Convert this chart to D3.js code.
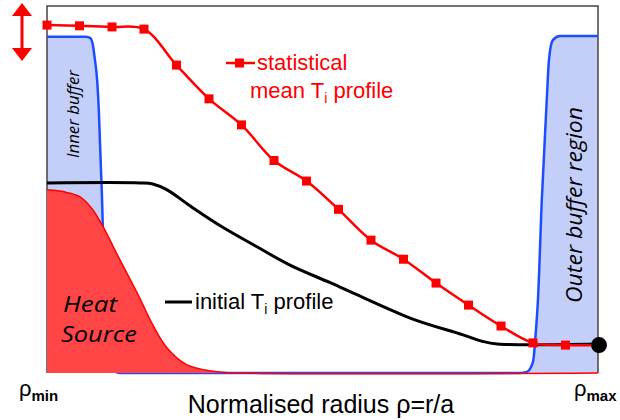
<!DOCTYPE html>
<html>
<head>
<meta charset="utf-8">
<script src="https://cdn.jsdelivr.net/npm/d3@7"></script>
<style>
  body { margin: 0; background: #fff; }
  svg { display: block; }
</style>
</head>
<body>
<div id="chart"></div>
<script>
// statistical mean Ti profile (markers)
var meanRho = [0, 0.059, 0.118, 0.176, 0.235, 0.294, 0.353, 0.412, 0.471, 0.529, 0.588, 0.647, 0.706, 0.765, 0.824, 0.882, 0.941, 1];
var meanTi = [0.948, 0.946, 0.943, 0.937, 0.839, 0.747, 0.676, 0.579, 0.523, 0.446, 0.362, 0.310, 0.245, 0.185, 0.128, 0.082, 0.076, 0.076];

// initial Ti profile
var initRho = [0, 0.169, 0.192, 0.218, 0.260, 0.319, 0.381, 0.441, 0.514, 0.573, 0.664, 0.755, 0.791, 0.817, 1];
var initTi = [0.518, 0.518, 0.515, 0.499, 0.455, 0.397, 0.344, 0.294, 0.246, 0.206, 0.147, 0.104, 0.086, 0.079, 0.079];

// heat source
var heatRho = [0, 0.033, 0.060, 0.082, 0.102, 0.127, 0.145, 0.169, 0.192, 0.218, 0.254, 0.301, 0.350, 1];
var heatVal = [0.499, 0.493, 0.480, 0.447, 0.398, 0.324, 0.272, 0.202, 0.131, 0.068, 0.022, 0.005, 0, 0];

// buffer regions
var innerRho = [0, 0.069, 0.078, 0.083, 0.087, 0.091, 0.094, 0.096, 0.098, 0.100, 0.102, 0.103, 0.105, 0.109, 0.118, 0.136];
var innerVal = [0.916, 0.916, 0.913, 0.896, 0.853, 0.798, 0.717, 0.635, 0.553, 0.471, 0.335, 0.199, 0.090, 0.035, 0.008, 0];
var outerRho = [0.858, 0.871, 0.882, 0.887, 0.891, 0.898, 0.907, 0.911, 0.918, 0.931, 1];
var outerVal = [0, 0.003, 0.030, 0.109, 0.199, 0.471, 0.744, 0.853, 0.907, 0.918, 0.918];

var width = 620, height = 420;
var margin = {top: 6, right: 22, bottom: 47, left: 47};

var svg = d3.select("#chart").append("svg")
  .attr("width", width)
  .attr("height", height);

var xScale = d3.scaleLinear().domain([0, 1]).range([margin.left, width - margin.right]);
var yScale = d3.scaleLinear().domain([0, 1]).range([height - margin.bottom, margin.top]);

function zipPts(xs, ys) {
  return xs.map(function(d, i) { return [d, ys[i]]; });
}

var meanPts = zipPts(meanRho, meanTi);
var initPts = zipPts(initRho, initTi);
var heatPts = zipPts(heatRho, heatVal);
var innerPts = zipPts(innerRho, innerVal);
var outerPts = zipPts(outerRho, outerVal);

function makeLine(curve) {
  return d3.line()
    .x(function(d) { return xScale(d[0]); })
    .y(function(d) { return yScale(d[1]); })
    .curve(curve);
}
function makeArea(curve) {
  return d3.area()
    .x(function(d) { return xScale(d[0]); })
    .y0(yScale(0))
    .y1(function(d) { return yScale(d[1]); })
    .curve(curve);
}

var smooth = d3.curveCatmullRom.alpha(0.5);
var line = makeLine(d3.curveMonotoneX);
var smoothLine = makeLine(smooth);
var smoothArea = makeArea(smooth);
var monoArea = makeArea(d3.curveMonotoneX);

var blueFill = "#c3cff8";
var blueLine = "#1d4dff";
var red = "#ff0000";

// buffer fills
svg.append("path").datum(innerPts).attr("d", monoArea).attr("fill", blueFill);
svg.append("path").datum(outerPts.concat([[1, 0]])).attr("d", monoArea).attr("fill", blueFill);

// frame (left, top, right)
svg.append("path")
  .attr("d", "M" + xScale(0) + "," + yScale(0) + "V" + yScale(1) + "H" + xScale(1) + "V" + yScale(0))
  .attr("fill", "none")
  .attr("stroke", "#444")
  .attr("stroke-width", 1.5);

// buffer boundary line
svg.append("path")
  .datum(innerPts.concat(outerPts))
  .attr("d", line)
  .attr("fill", "none")
  .attr("stroke", blueLine)
  .attr("stroke-width", 2.5);

// heat source
svg.append("path").datum(heatPts)
  .attr("d", smoothArea)
  .attr("fill", "#ff4545")
  .attr("stroke", "none");
svg.append("path").datum(heatPts)
  .attr("d", smoothLine)
  .attr("fill", "none")
  .attr("stroke", red)
  .attr("stroke-width", 1.5);

// initial profile
svg.append("path").datum(initPts)
  .attr("d", smoothLine)
  .attr("fill", "none")
  .attr("stroke", "#000")
  .attr("stroke-width", 3);

// mean profile
svg.append("path").datum(meanPts)
  .attr("d", smoothLine)
  .attr("fill", "none")
  .attr("stroke", red)
  .attr("stroke-width", 2.5);

svg.selectAll(".marker")
  .data(meanPts.slice(0, meanPts.length - 1))
  .enter().append("rect")
  .attr("class", "marker")
  .attr("x", function(d) { return xScale(d[0]) - 4.5; })
  .attr("y", function(d) { return yScale(d[1]) - 4.5; })
  .attr("width", 9)
  .attr("height", 9)
  .attr("fill", red);

var last = meanPts[meanPts.length - 1];
svg.append("circle")
  .attr("cx", xScale(last[0]) + 1)
  .attr("cy", yScale(last[1]))
  .attr("r", 8)
  .attr("fill", "#000");

// double arrow on the left
var ax = 22;
svg.append("line")
  .attr("x1", ax).attr("x2", ax)
  .attr("y1", 12).attr("y2", 52)
  .attr("stroke", red).attr("stroke-width", 3);
svg.append("path")
  .attr("d", "M" + ax + ",3L" + (ax - 10) + ",16L" + (ax + 10) + ",16Z")
  .attr("fill", red);
svg.append("path")
  .attr("d", "M" + ax + ",61L" + (ax - 10) + ",48L" + (ax + 10) + ",48Z")
  .attr("fill", red);

// legend: statistical mean
svg.append("line")
  .attr("x1", 226).attr("x2", 255).attr("y1", 63).attr("y2", 63)
  .attr("stroke", red).attr("stroke-width", 2.5);
svg.append("rect")
  .attr("x", 235).attr("y", 58.5).attr("width", 9).attr("height", 9)
  .attr("fill", red);

var sans = "Liberation Sans, Arial, sans-serif";
var italicFont = "Open Sans, DejaVu Sans, sans-serif";

svg.append("text")
  .attr("x", 257).attr("y", 70)
  .attr("font-family", sans).attr("font-size", 22)
  .attr("fill", red)
  .text("statistical");

var t1 = svg.append("text")
  .attr("x", 250).attr("y", 98)
  .attr("font-family", sans).attr("font-size", 22)
  .attr("fill", red);
t1.append("tspan").text("mean T");
t1.append("tspan").attr("font-size", 14).attr("dy", 5).text("i");
t1.append("tspan").attr("dy", -5).text(" profile");

// legend: initial profile
svg.append("line")
  .attr("x1", 165).attr("x2", 192).attr("y1", 302).attr("y2", 302)
  .attr("stroke", "#000").attr("stroke-width", 3);
var t2 = svg.append("text")
  .attr("x", 195).attr("y", 309)
  .attr("font-family", sans).attr("font-size", 22)
  .attr("fill", "#000");
t2.append("tspan").text("initial T");
t2.append("tspan").attr("font-size", 14).attr("dy", 5).text("i");
t2.append("tspan").attr("dy", -5).text(" profile");

// italic labels
svg.append("text")
  .attr("x", 63).attr("y", 312)
  .attr("font-family", italicFont).attr("font-style", "italic").attr("font-size", 21)
  .attr("textLength", 54).attr("lengthAdjust", "spacingAndGlyphs")
  .text("Heat");
svg.append("text")
  .attr("x", 61).attr("y", 342)
  .attr("font-family", italicFont).attr("font-style", "italic").attr("font-size", 21)
  .attr("textLength", 76).attr("lengthAdjust", "spacingAndGlyphs")
  .text("Source");

svg.append("text")
  .attr("transform", "translate(79,114) rotate(-90)")
  .attr("text-anchor", "middle")
  .attr("font-family", italicFont).attr("font-style", "italic").attr("font-size", 17)
  .attr("textLength", 88).attr("lengthAdjust", "spacingAndGlyphs")
  .text("Inner buffer");

svg.append("text")
  .attr("transform", "translate(582,205) rotate(-90)")
  .attr("text-anchor", "middle")
  .attr("font-family", italicFont).attr("font-style", "italic").attr("font-size", 22)
  .attr("textLength", 196).attr("lengthAdjust", "spacingAndGlyphs")
  .text("Outer buffer region");

// axis labels
svg.append("text")
  .attr("x", 321).attr("y", 413)
  .attr("text-anchor", "middle")
  .attr("font-family", sans).attr("font-size", 25)
  .text("Normalised radius \u03c1=r/a");

var rmin = svg.append("text")
  .attr("x", 19).attr("y", 396)
  .attr("font-family", sans).attr("font-size", 22);
rmin.append("tspan").text("\u03c1");
rmin.append("tspan").attr("font-size", 15).attr("font-weight", "bold").attr("dy", 5).text("min");

var rmax = svg.append("text")
  .attr("x", 574).attr("y", 396)
  .attr("font-family", sans).attr("font-size", 22);
rmax.append("tspan").text("\u03c1");
rmax.append("tspan").attr("font-size", 15).attr("font-weight", "bold").attr("dy", 5).text("max");
</script>
</body>
</html>
